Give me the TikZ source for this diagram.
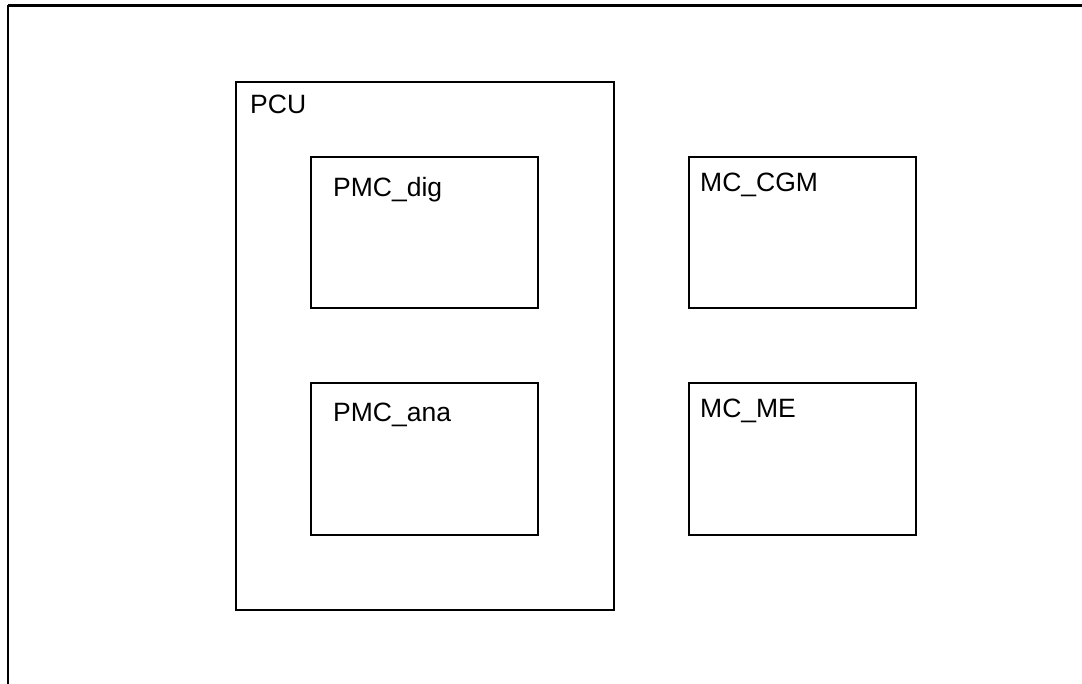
\documentclass[tikz,border=0pt]{standalone}
\usepackage{fontspec}
\setmainfont{Liberation Sans}
\begin{document}
\begin{tikzpicture}[x=1pt,y=-1pt,
  blk/.style={draw=black,line width=1.8pt,fill=none},
  lbl/.style={anchor=base west,inner sep=0pt,font=\fontsize{26.5}{31}\selectfont},
  frame/.style={draw=black,line width=2.6pt}]
\useasboundingbox (0,0) rectangle (1082,684);
\draw[frame] (8,5.5) -- (1090,5.5);
\draw[frame] (8,5.5) -- (8,690);
\node[blk,minimum width=378pt,minimum height=528pt,anchor=north west,inner sep=0pt] (pcu) at (235,81) {};
\node[blk,minimum width=227pt,minimum height=151pt,anchor=north west,inner sep=0pt] (dig) at (310,156) {};
\node[blk,minimum width=227pt,minimum height=152pt,anchor=north west,inner sep=0pt] (ana) at (310,382) {};
\node[blk,minimum width=227pt,minimum height=151pt,anchor=north west,inner sep=0pt] (cgm) at (688,156) {};
\node[blk,minimum width=227pt,minimum height=152pt,anchor=north west,inner sep=0pt] (me) at (688,382) {};
\node[lbl] (pcul) at (250,114) {PCU};
\node[lbl] (digl) at (333,197) {PMC\_dig};
\node[lbl] (anal) at (333,422) {PMC\_ana};
\node[lbl] (cgml) at (700,192) {MC\_CGM};
\node[lbl] (mel) at (700,418) {MC\_ME};
\end{tikzpicture}
\end{document}
